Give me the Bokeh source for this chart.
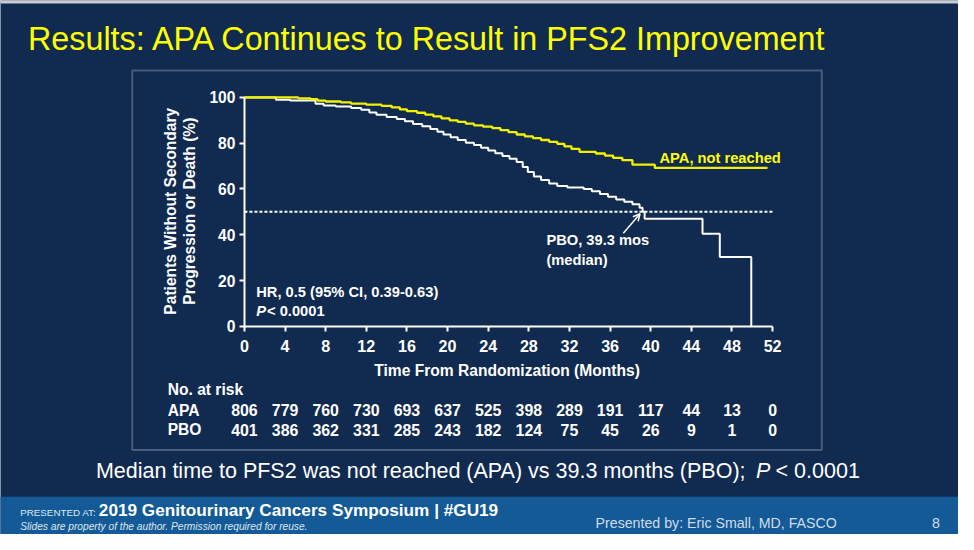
import math
from bokeh.plotting import figure
from bokeh.models import Range1d, FixedTicker, Label, Arrow, OpenHead, BoxAnnotation
from bokeh.embed import file_html
from bokeh.resources import INLINE

# ---------------- data ----------------
apa_t = [0, 5.3, 6.5, 7.2, 8.0, 9.5, 10.5, 12.0, 13.5, 14.5, 15.3, 16.0, 17.0, 17.8, 18.6,
         19.4, 20.2, 21.0, 21.8, 22.6, 23.5, 24.4, 25.2, 26.0, 26.8, 27.6, 28.4, 29.2, 30.0,
         30.8, 31.5, 32.2, 33.0, 34.6, 35.5, 36.3, 37.2, 38.2, 40.4, 51.5]
apa_s = [100, 99.6, 99.2, 98.6, 98.2, 97.8, 97.3, 96.8, 96.3, 95.6, 94.8, 94.0, 93.3, 92.5, 91.7,
         90.8, 90.0, 89.3, 88.5, 87.8, 87.2, 86.6, 85.7, 84.8, 83.8, 83.0, 82.2, 81.4, 80.6,
         79.7, 78.6, 77.5, 76.2, 75.5, 74.6, 73.6, 72.6, 70.6, 69.2, 69.2]

pbo_t = [0, 3.1, 4.5, 7.0, 7.8, 9.0, 10.5, 11.5, 12.3, 13.0, 14.0, 15.0, 15.8, 16.6, 17.5,
         18.3, 19.0, 19.6, 20.3, 21.0, 21.8, 22.6, 23.3, 24.0, 24.7, 25.4, 26.1, 26.8, 27.4,
         27.9, 28.5, 29.2, 30.0, 30.8, 31.8, 33.4, 34.2, 35.0, 35.8, 36.6, 37.4, 38.2, 38.9,
         39.2, 39.4, 45.1, 46.8, 49.9]
pbo_s = [100, 99.0, 98.6, 97.2, 96.5, 96.0, 95.4, 94.6, 93.4, 92.4, 91.4, 90.6, 89.6, 88.4, 87.4,
         86.2, 85.0, 83.8, 82.6, 81.4, 80.2, 79.2, 78.0, 76.8, 75.6, 74.4, 73.2, 71.8, 69.6,
         67.4, 65.4, 63.9, 62.4, 61.3, 60.6, 60.0, 59.0, 57.8, 56.6, 55.4, 54.4, 53.3, 51.8,
         50.0, 47.0, 40.4, 30.3, 0]

x_ticks = [0, 4, 8, 12, 16, 20, 24, 28, 32, 36, 40, 44, 48, 52]
y_ticks = [0, 20, 40, 60, 80, 100]
risk_months = x_ticks
risk_apa = [806, 779, 760, 730, 693, 637, 525, 398, 289, 191, 117, 44, 13, 0]
risk_pbo = [401, 386, 362, 331, 285, 243, 182, 124, 75, 45, 26, 9, 1, 0]
median_level = 50
pbo_median = 39.3

# ---------------- layout (reference-pixel anchors of the axes) ----------------
REF_W, REF_H = 974, 550
W, H = 958, 534
T0_REF, T52_REF = 248.0, 785.0
S0_REF, S100_REF = 335.6, 99.8
FS = 0.978  # font scale for the slightly smaller canvas

def dx(rx):
    return (rx - T0_REF) / (T52_REF - T0_REF) * 52.0

def dy(ry):
    return (S0_REF - ry) / (S0_REF - S100_REF) * 100.0

NAVY = "#102a50"
BAND = "#135a96"
YEL = "#ffff00"
WHITE = "#ffffff"
FONT = "Liberation Sans"

p = figure(width=W, height=H, x_range=Range1d(dx(0), dx(REF_W)),
           y_range=Range1d(dy(REF_H), dy(0)),
           output_backend="svg", toolbar_location=None, title=None,
           min_border_left=0, min_border_right=0, min_border_top=0, min_border_bottom=0)
p.background_fill_color = NAVY
p.border_fill_color = NAVY
p.outline_line_color = None
p.xgrid.visible = False
p.ygrid.visible = False

def px(size):
    return f"{size * FS:.1f}px"

for ax in (p.xaxis, p.yaxis):
    ax.axis_line_color = WHITE
    ax.axis_line_width = 2
    ax.major_tick_line_color = WHITE
    ax.major_tick_line_width = 2
    ax.major_tick_out = 5
    ax.major_tick_in = 0
    ax.minor_tick_out = 0
    ax.minor_tick_in = 0
    ax.major_label_text_color = WHITE
    ax.major_label_text_font = FONT
    ax.major_label_text_font_style = "bold"

p.xaxis.major_label_text_font_size = px(16.5)
p.yaxis.major_label_text_font_size = px(16)
p.xaxis.ticker = FixedTicker(ticks=x_ticks)
p.yaxis.ticker = FixedTicker(ticks=y_ticks)
p.xaxis.bounds = (x_ticks[0], x_ticks[-1])
p.yaxis.bounds = (y_ticks[0], y_ticks[-1])
p.xaxis.fixed_location = y_ticks[0]
p.yaxis.fixed_location = x_ticks[0]
p.xaxis.major_label_standoff = 9
p.yaxis.major_label_standoff = 4

# background band, top strip and frame box
p.add_layout(BoxAnnotation(left=dx(-10), right=dx(REF_W + 10), top=dy(511), bottom=dy(REF_H + 10),
                           fill_color=BAND, fill_alpha=1, line_color=None, level="underlay"))
p.add_layout(BoxAnnotation(left=dx(-10), right=dx(REF_W + 10), top=dy(-5), bottom=dy(3),
                           fill_color="#c9ccd2", fill_alpha=1, line_color=None, level="underlay"))
p.add_layout(BoxAnnotation(left=dx(134), right=dx(835), top=dy(72), bottom=dy(463),
                           fill_alpha=0, line_color="#c3d3e8", line_width=2, level="underlay"))

# curves
p.line([x_ticks[0], x_ticks[-1]], [median_level, median_level], line_color=WHITE,
       line_width=2, line_dash="3 2")
p.step(pbo_t, pbo_s, mode="after", line_color=WHITE, line_width=2)
p.step(apa_t, apa_s, mode="after", line_color="#f2f200", line_width=2.3)

p.add_layout(Arrow(end=OpenHead(size=7, line_color=WHITE, line_width=1.5),
                   x_start=pbo_median - 2.0, y_start=median_level - 9.3,
                   x_end=pbo_median - 0.35, y_end=median_level - 0.8,
                   line_color=WHITE, line_width=1.5))

def lab(rx, ry, text, size, color=WHITE, style="normal", align="left", angle=0.0):
    p.add_layout(Label(x=dx(rx), y=dy(ry), text=text, text_font=FONT,
                       text_font_size=px(size), text_font_style=style,
                       text_color=color, text_align=align, text_baseline="middle",
                       angle=angle))

# titles / notes
lab(28, 40, "Results: APA Continues to Result in PFS2 Improvement", 33, YEL)
lab(670, 162, "APA, not reached", 15, YEL, "bold")
lab(555, 247, "PBO, 39.3 mos", 15, WHITE, "bold")
lab(555, 267, "(median)", 15, WHITE, "bold")
lab(260, 300, "HR, 0.5 (95% CI, 0.39-0.63)", 15, WHITE, "bold")
lab(260, 320, "P", 15, WHITE, "bold italic")
lab(271, 320, "< 0.0001", 15, WHITE, "bold")

# axis titles
lab(515, 381, "Time From Randomization (Months)", 16, WHITE, "bold", "center")
lab(173, 217, "Patients Without Secondary", 16, WHITE, "bold", "center", math.pi / 2)
lab(192, 217, "Progression or Death (%)", 16, WHITE, "bold", "center", math.pi / 2)

# risk table
lab(170, 401, "No. at risk", 16, WHITE, "bold")
lab(170, 422, "APA", 16, WHITE, "bold")
lab(170, 442, "PBO", 16, WHITE, "bold")
for m, a, b in zip(risk_months, risk_apa, risk_pbo):
    for val, ry in ((a, 422), (b, 442)):
        p.add_layout(Label(x=m, y=dy(ry), text=str(val), text_font=FONT,
                           text_font_size=px(16.3), text_font_style="bold", text_color=WHITE,
                           text_align="center", text_baseline="middle"))

# bottom statement
lab(97, 485, "Median time to PFS2 was not reached (APA) vs 39.3 months (PBO);", 22)
lab(768, 485, "P", 22, WHITE, "italic")
lab(788, 485, "< 0.0001", 22)

# footer band
lab(20, 527, "PRESENTED AT:", 10, "#dfe7f2")
lab(100, 525, "2019 Genitourinary Cancers Symposium | #GU19", 17.6, WHITE, "bold")
lab(20, 541.5, "Slides are property of the author. Permission required for reuse.", 10.4, "#dfe7f2", "italic")
lab(605, 538, "Presented by: Eric Small, MD, FASCO", 14.5, "#d0dcec")
lab(947, 538, "8", 14.5, "#d0dcec")

open("out.html", "w").write(file_html(p, INLINE))
